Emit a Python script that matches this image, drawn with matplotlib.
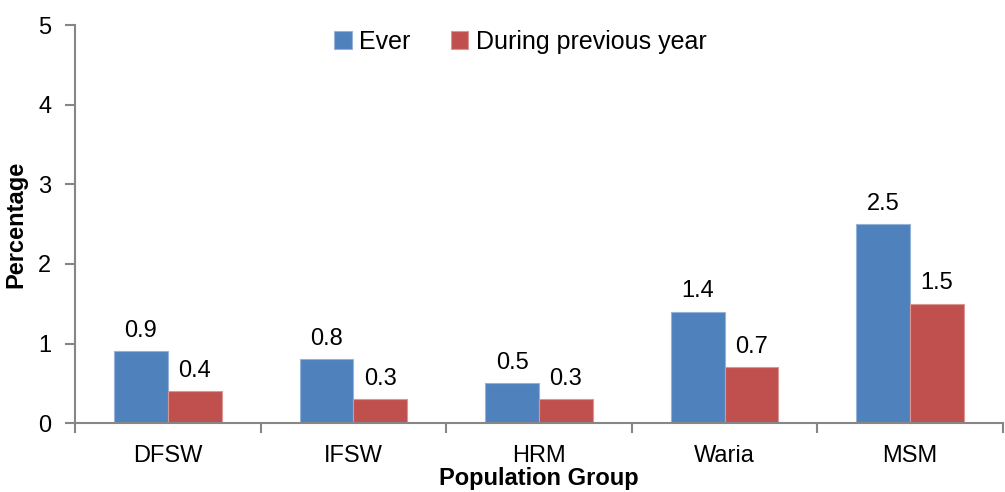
import matplotlib.pyplot as plt
import numpy as np

plt.rcParams['font.family'] = ['Liberation Sans', 'DejaVu Sans']

groups = ['DFSW', 'IFSW', 'HRM', 'Waria', 'MSM']
ever = [0.9, 0.8, 0.5, 1.4, 2.5]
prev_year = [0.4, 0.3, 0.3, 0.7, 1.5]

blue = '#4F81BD'
red = '#C0504D'
axis_grey = '#868686'

fig = plt.figure(figsize=(10.05, 4.92), dpi=100)
ax = fig.add_axes([0.0746, 0.140, 0.9234, 0.809])

x = np.arange(len(groups))
w = 0.29
b1 = ax.bar(x - w / 2, ever, w, color=blue, edgecolor='#95B3D7', linewidth=0.8, label='Ever')
b2 = ax.bar(x + w / 2, prev_year, w, color=red, edgecolor='#D99694', linewidth=0.8,
            label='During previous year')

for bars in (b1, b2):
    for r in bars:
        ax.text(r.get_x() + r.get_width() / 2, r.get_height() + 0.12, f'{r.get_height():.1f}',
                ha='center', va='bottom', fontsize=17)

ax.set_xlim(-0.5, len(groups) - 0.5)
ax.set_ylim(0, 5)
ax.set_yticks(range(6))
ax.set_xticks(x)
ax.set_xticklabels(groups)
ax.set_xticks(np.arange(-0.5, len(groups), 1), minor=True)
ax.tick_params(axis='x', which='major', length=0, pad=16, labelsize=17)
ax.tick_params(axis='x', which='minor', length=7, width=1.5, color=axis_grey, direction='out')
ax.tick_params(axis='y', length=7, width=1.5, color=axis_grey, labelsize=17, pad=10)

for s in ['top', 'right']:
    ax.spines[s].set_visible(False)
for s in ['left', 'bottom']:
    ax.spines[s].set_color(axis_grey)
    ax.spines[s].set_linewidth(1.5)

ax.set_xlabel('Population Group', fontsize=17, fontweight='bold', labelpad=0)
ax.set_ylabel('Percentage', fontsize=17, fontweight='bold', labelpad=8)

ax.legend(loc='upper center', bbox_to_anchor=(0.48, 1.045), ncol=2, frameon=False, fontsize=18,
          handlelength=0.7, handleheight=0.7, handletextpad=0.3, columnspacing=1.6)

fig.savefig('out.png', dpi=100)
